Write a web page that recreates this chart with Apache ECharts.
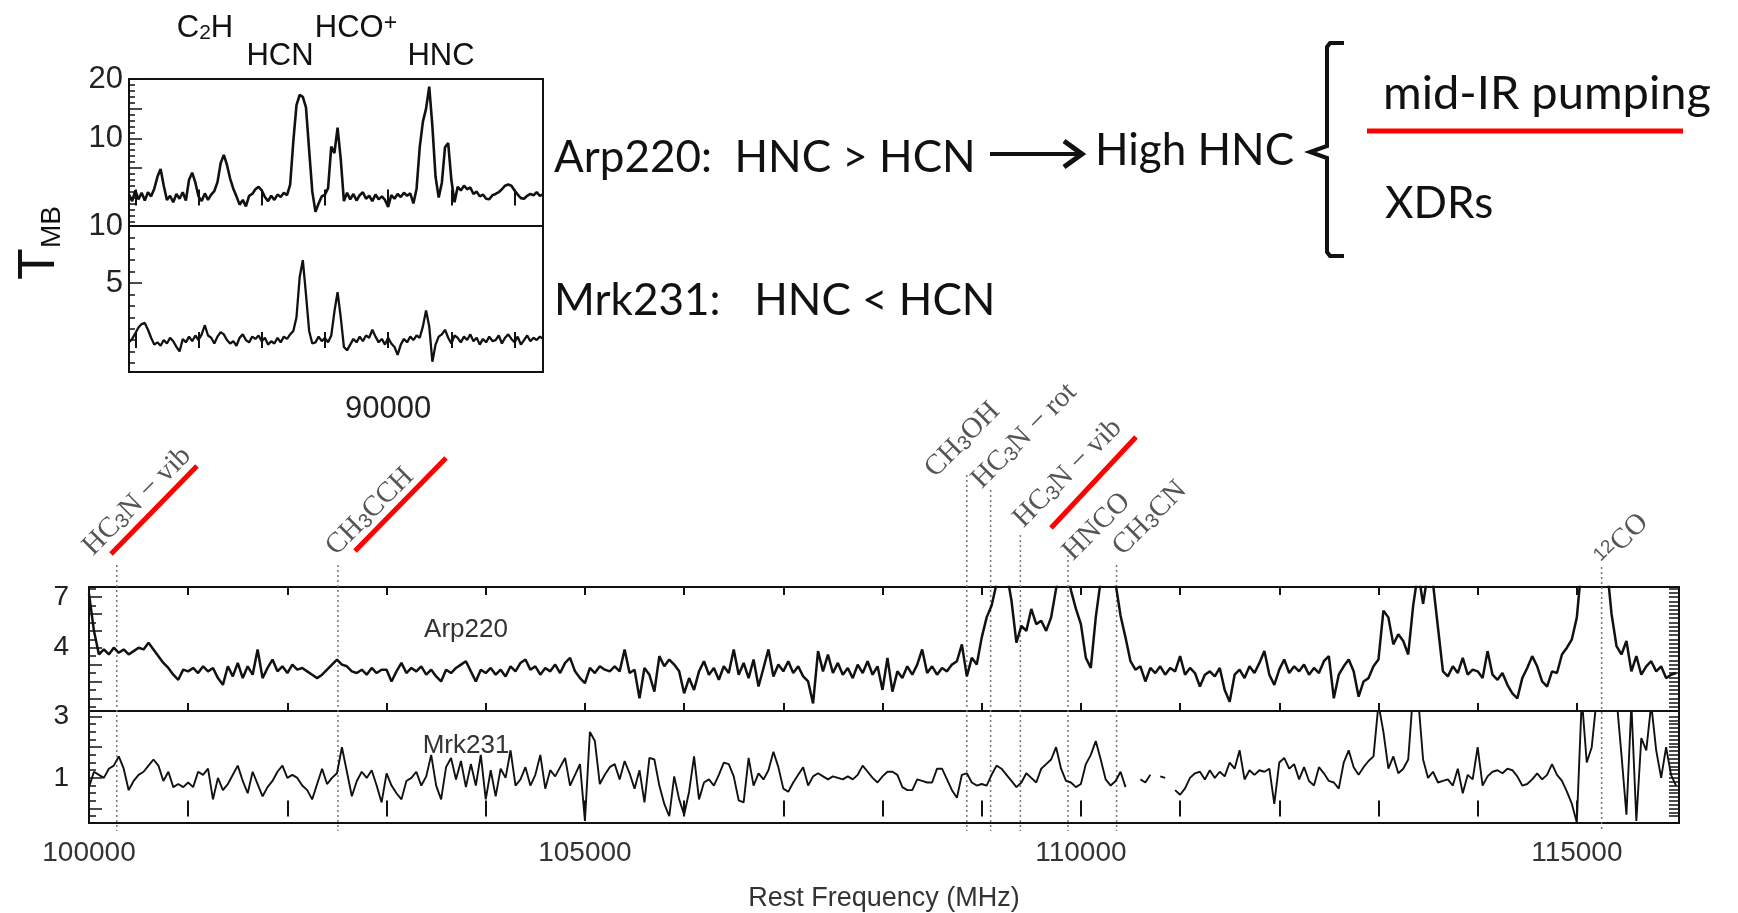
<!DOCTYPE html>
<html>
<head>
<meta charset="utf-8">
<title>Arp220 / Mrk231 spectra</title>
<script src="https://cdn.jsdelivr.net/npm/echarts@6.0.0/dist/echarts.min.js"></script>
<style>
  html, body { margin: 0; padding: 0; background: #fff; }
  #main { width: 1738px; height: 913px; }
</style>
</head>
<body>
<div id="main"></div>
<script>
// ---- inset spectra (3 mm band), 50 MHz steps from 85900 MHz ----
var insetStart = 85900, insetStep = 50;
var insetArp220 = [
  0.5,-0.6,1.2,-0.3,0.8,-0.5,0.9,0.2,1.5,3.5,4.8,2.0,-0.4,
  0.3,-0.8,0.6,-0.2,0.9,-0.5,3.0,4.2,2.5,0.2,
  -0.6,0.7,-0.4,0.5,1.1,2.6,
  5.8,7.2,5.5,3.2,1.5,0.2,-1.2,-0.4,-1.5,0.3,0.6,1.4,1.8,1.2,0.1,-0.6,0.3,-0.4,0.5,0.1,0.8,0.4,
  2.2,9.5,15.6,17.3,17.0,15.2,8.0,1.0,-2.4,-1.0,0.2,0.5,1.6,8.6,7.5,11.8,6.5,
  -0.6,0.8,-0.3,0.6,-0.5,0.4,0.9,-0.2,0.3,-0.6,0.5,-0.3,0.2,-0.4,-1.6,0.4,-0.2,0.6,0.1,0.8,0.3,0.7,-1.0,1.5,
  8.5,12.8,15.0,18.7,12.0,3.5,0.0,2.5,8.5,9.2,3.0,
  -0.8,1.8,1.2,2.0,1.4,1.7,0.6,1.0,0.2,0.5,-0.2,-0.3,0.4,0.6,0.9,1.4,2.0,2.2,2.0,1.2,0.5,-0.1,-0.2,0.3,0.6,0.4,0.9,0.3,0.5
];
var insetMrk231 = [
  -0.2,0.1,0.6,1.1,1.4,1.5,0.9,0.2,-0.4,-0.2,-0.5,0.0,-0.3,
  0.2,-0.1,-0.6,-1.0,0.1,-0.2,0.3,-0.1,0.4,0.0,0.5,1.3,0.4,0.2,
  -0.3,0.3,0.7,0.5,0.0,-0.3,-0.1,-0.5,0.2,0.5,0.0,-0.2,0.3,0.1,0.4,-0.1,0.2,-0.4,-0.1,-0.3,0.2,-0.2,0.3,0.1,
  0.5,0.8,2.0,5.5,7.0,4.0,0.8,-0.3,-0.2,0.3,-0.1,0.2,-0.2,0.4,2.5,4.2,2.0,
  -0.6,-0.9,-0.4,0.1,-0.2,0.3,-0.1,0.4,0.2,0.9,0.3,-0.2,0.1,-0.4,0.2,-0.3,-0.6,-1.3,-0.4,0.1,-0.2,0.3,0.0,0.4,0.2,
  1.2,2.6,1.2,-1.9,-0.4,0.3,0.5,0.9,0.2,-0.3,0.4,0.2,-0.2,0.3,0.0,0.5,-0.1,0.2,-0.4,0.1,-0.2,0.3,-0.1,0.0,0.4,-0.3,0.2,0.5,0.1,-0.2,0.3,-0.4,0.0,0.4,-0.1,0.2,0.0,0.3,0.1
];
var insetTicks = [86000, 87000, 88000, 89000, 90000, 91000, 92000];
var insetTickLabels = [90000];
var insetLineNames = ['C{s|2}H', 'HCN', 'HCO{p|+}', 'HNC'];

// ---- wide spectra 100-116 GHz, 50 MHz steps ----
var specStart = 100000, specStep = 50;
var specArp220 = [
  7.2,5.0,3.6,3.9,3.6,4.0,3.7,3.9,3.6,3.8,4.0,3.9,4.3,3.9,3.5,3.1,2.8,2.4,2.1,2.7,
  2.6,2.8,2.5,2.9,2.6,2.8,2.2,1.8,2.9,2.3,3.1,2.2,2.9,2.4,3.9,2.2,2.8,3.3,2.6,2.9,
  2.5,3.0,2.7,2.8,2.6,2.4,2.2,2.4,2.7,3.0,3.3,3.0,2.9,2.6,2.5,2.7,2.4,2.8,2.5,2.7,
  2.7,2.0,2.6,3.1,2.5,2.8,2.6,2.9,2.4,2.7,2.3,2.0,2.7,2.5,2.8,3.0,3.2,2.6,2.0,2.7,
  2.5,2.8,2.4,2.7,2.3,2.9,2.6,3.1,3.3,2.7,2.9,2.4,2.8,2.6,3.0,2.5,3.1,3.4,2.6,2.2,
  1.9,2.8,2.5,2.9,2.7,2.6,2.9,2.6,3.9,2.5,2.7,1.0,2.8,2.4,1.4,3.5,2.9,3.3,3.0,2.6,
  1.3,2.2,1.5,2.6,3.2,2.4,2.8,2.1,2.9,2.5,3.9,2.4,3.1,2.2,3.3,1.7,2.8,3.9,2.3,3.0,
  2.6,3.2,2.5,2.9,2.3,2.0,0.7,3.8,2.6,3.6,2.5,3.1,2.4,2.8,2.2,3.0,2.5,3.2,2.4,2.9,
  1.5,3.4,1.4,2.6,2.2,2.9,2.4,3.0,3.9,2.5,2.9,2.4,2.8,2.6,3.0,3.2,4.2,2.3,3.4,3.0,
  4.6,5.8,6.5,7.8,9.0,8.5,6.8,4.3,5.3,5.0,6.3,5.4,5.6,5.0,5.8,7.5,9.0,8.8,7.4,6.3,
  5.4,3.4,2.8,5.8,8.0,9.0,9.0,7.8,5.9,4.6,3.2,2.7,2.9,2.0,2.8,2.5,2.9,2.4,2.8,2.6,
  3.5,2.4,2.8,2.5,1.7,2.4,2.6,2.3,2.8,1.5,0.8,2.4,2.7,2.2,2.9,2.5,3.1,3.8,2.4,1.8,
  2.7,3.3,2.5,2.9,2.6,3.0,2.4,2.8,2.5,3.2,3.5,1.0,2.4,2.9,3.3,2.6,1.1,2.0,2.2,2.9,
  3.3,6.2,5.8,4.2,4.8,4.4,3.6,6.5,8.5,6.6,8.5,7.8,5.2,2.6,2.3,2.9,2.5,3.4,2.4,2.7,
  2.6,2.2,3.8,2.4,2.1,2.5,1.8,1.3,1.0,2.2,2.8,3.5,2.9,2.0,1.7,2.6,2.5,3.6,4.0,4.5,
  5.8,9.0,9.0,9.0,9.0,9.0,9.0,6.0,4.1,3.6,4.4,2.6,3.5,2.4,2.9,3.2,2.6,2.9,2.2,2.4,
  2.5
];
var specMrk231 = [
  0.7,1.2,1.1,1.0,1.3,1.4,1.7,1.3,0.6,0.9,1.1,1.2,1.4,1.6,1.4,0.9,1.2,0.7,0.8,0.7,
  0.85,0.7,1.2,1.1,1.3,0.3,1.0,0.6,0.8,1.1,1.4,0.9,0.5,1.2,0.8,0.4,0.7,0.9,1.2,1.4,
  1.0,1.1,1.0,0.75,0.6,0.3,0.8,1.3,0.8,1.0,1.15,2.0,1.2,0.4,0.9,1.2,1.0,1.25,0.75,0.2,
  1.15,0.75,0.5,0.3,0.9,1.0,1.2,0.75,1.05,1.75,0.75,0.3,1.35,1.65,0.95,1.55,0.7,1.45,0.75,1.75,
  0.3,1.25,0.4,1.3,1.0,1.9,0.75,0.95,1.35,0.75,1.1,1.75,0.65,1.25,1.05,1.35,1.65,0.75,1.1,1.45,
  -0.4,2.5,2.2,0.8,1.1,1.35,1.45,0.95,1.55,1.15,0.65,1.25,0.2,1.65,1.6,0.75,0.15,-0.25,1.05,0.3,
  -0.2,0.55,1.7,0.3,0.85,0.95,0.75,1.1,1.5,1.45,1.05,0.27,0.2,1.65,0.75,1.15,0.95,1.25,1.85,1.35,
  0.65,0.55,0.85,1.1,1.35,0.75,1.05,1.15,1.05,0.95,1.05,1.0,0.95,1.05,0.95,1.1,1.4,1.2,1.0,0.85,
  1.05,1.2,1.2,1.1,0.7,0.6,0.6,0.95,0.9,0.85,0.85,1.3,1.3,0.95,0.6,0.35,1.1,1.15,0.85,0.75,
  0.8,0.75,1.1,1.4,1.3,1.1,0.9,0.7,0.85,1.15,1.0,0.85,1.3,1.45,1.6,2.0,1.3,0.9,0.85,0.7,
  0.8,1.45,1.75,2.2,1.6,0.95,0.75,0.9,1.2,0.7,null,null,0.95,0.85,1.1,null,1.05,1.0,null,0.6,
  0.45,0.66,1.0,1.15,1.2,0.95,1.25,1.0,1.2,1.05,1.5,1.3,1.9,0.95,1.25,1.1,1.25,1.2,1.3,0.15,
  1.5,1.65,1.3,1.45,0.95,1.35,0.9,0.75,1.35,1.15,0.9,0.85,0.65,1.5,1.9,1.35,1.1,1.35,1.55,1.7,
  3.4,2.5,1.3,1.7,1.15,1.3,1.6,3.8,3.6,1.6,1.0,1.2,0.85,0.9,0.95,0.75,1.3,0.5,1.1,0.95,
  2.0,0.75,1.05,1.2,1.25,1.15,1.3,1.25,1.05,0.75,0.8,0.95,1.15,0.95,1.1,1.45,1.1,0.9,0.55,0.15,
  -0.45,3.6,1.5,2.0,3.6,4.0,4.0,4.0,3.6,1.75,-0.2,3.4,-0.4,2.3,1.9,3.4,1.9,1.0,2.0,1.1,
  0.75
];
var specTicks = [101000,102000,103000,104000,105000,106000,107000,108000,109000,110000,111000,112000,113000,114000,115000];
var specTickLabels = [100000, 105000, 110000, 115000];

// identified lines (rest frequency, MHz)
var lineNames = ['HC{s|3}N − vib', 'CH{s|3}CCH', 'CH{s|3}OH', 'HC{s|3}N − rot', 'HC{s|3}N − vib', 'HNCO', 'CH{s|3}CN', '{p|12}CO'];
var lineFreqs = [100280, 102510, 108850, 109090, 109390, 109870, 110360, 115250];

// ---- layout only: top of each dotted marker, label anchor offset from the marker ----
var lineTops = [565, 565, 475, 490, 535, 555, 565, 567];
var labelDx = [-19, 3, -27, -4, 8, 10, 11, 9];
var labelY = [561, 561, 483, 494, 533, 566, 561, 572];

function pairs(start, step, vals) {
  return vals.map(function (v, i) { return [start + i * step, v]; });
}
function range(a, b, s) {
  var out = [];
  for (var v = a; v <= b + 1e-9; v += s) out.push(Math.round(v * 1000) / 1000);
  return out;
}
function plain(v) { return String(v); }

var myChart = echarts.init(document.getElementById('main'));

var frame = { show: true, borderColor: '#111', borderWidth: 2, backgroundColor: 'transparent' };
var grids = [
  Object.assign({ left: 129, top: 79, width: 414, height: 147 }, frame),
  Object.assign({ left: 129, top: 226, width: 414, height: 146 }, frame),
  Object.assign({ left: 89, top: 587, width: 1590, height: 124 }, frame),
  Object.assign({ left: 89, top: 711, width: 1590, height: 124 }, frame)
];

function xAx(g, pos, min, max, ticks, labels, extra) {
  var a = {
    type: 'value', gridIndex: g, position: pos, min: min, max: max,
    axisLine: { show: false }, splitLine: { show: false },
    axisTick: { show: true, inside: true, length: 8, customValues: ticks, lineStyle: { color: '#111', width: 2 } },
    axisLabel: { show: !!labels, customValues: labels || [], formatter: plain, color: '#222', fontFamily: 'Liberation Sans', fontSize: 30, margin: 16 }
  };
  return Object.assign(a, extra || {});
}
function yAx(g, pos, min, max, ticks, tickLen, labels, size, margin) {
  return {
    type: 'value', gridIndex: g, position: pos, min: min, max: max,
    axisLine: { show: false }, splitLine: { show: false },
    axisTick: { show: true, inside: true, length: tickLen, customValues: ticks, lineStyle: { color: '#111', width: 1.5 } },
    axisLabel: { show: !!labels, customValues: labels || [], formatter: plain, color: '#222', fontFamily: 'Liberation Sans', fontSize: size || 28, margin: margin || 8 }
  };
}

var xAxes = [
  xAx(0, 'bottom', 85900, 92450, insetTicks),
  xAx(0, 'top', 85900, 92450, insetTicks),
  xAx(1, 'bottom', 85900, 92450, insetTicks, insetTickLabels, {}),
  xAx(1, 'top', 85900, 92450, insetTicks),
  xAx(2, 'bottom', 100000, 116030, specTicks),
  xAx(2, 'top', 100000, 116030, specTicks),
  xAx(3, 'bottom', 100000, 116030, specTicks, specTickLabels, {
    name: 'Rest Frequency (MHz)', nameLocation: 'middle', nameGap: 62,
    nameTextStyle: { color: '#333', fontFamily: 'Liberation Sans', fontSize: 27 }
  }),
  xAx(3, 'top', 100000, 116030, specTicks)
];
xAxes[2].axisLabel.fontSize = 31;
xAxes[2].axisLabel.margin = 22;
xAxes[6].axisLabel.fontSize = 28;
xAxes[6].axisLabel.color = '#333';
xAxes[6].axisLabel.margin = 16;

var yAxes = [
  yAx(0, 'left', -4.8, 20, [5, 10, 15, 20], 13, [10, 20], 31, 6),
  yAx(0, 'left', -4.8, 20, range(-4, 20, 1), 6),
  yAx(1, 'left', -2.8, 10, [5, 10], 13, [5, 10], 31, 6),
  yAx(1, 'left', -2.8, 10, range(-2, 10, 1), 6),
  yAx(2, 'left', 0.25, 7.6, [1, 2, 3, 4, 5, 6, 7], 13, [4, 7], 28, 20),
  yAx(2, 'left', 0.25, 7.6, range(0.5, 7.5, 0.5), 7),
  yAx(2, 'right', 0.25, 7.6, range(0.5, 7.5, 0.25), 10),
  yAx(3, 'left', -0.47, 3.18, [0, 1, 2, 3], 13, [1, 3], 28, 20),
  yAx(3, 'left', -0.47, 3.18, range(-0.25, 3, 0.25), 7),
  yAx(3, 'right', -0.47, 3.18, range(-0.25, 3, 0.125), 10)
];

function spec(name, xi, yi, data, w) {
  return {
    name: name, type: 'line', xAxisIndex: xi, yAxisIndex: yi, data: data,
    showSymbol: false, symbol: 'none', clip: true, connectNulls: false,
    lineStyle: { color: '#111', width: w }, animation: false
  };
}

var rich = {
  s: { fontSize: 20, verticalAlign: 'bottom' },
  p: { fontSize: 19, verticalAlign: 'top' }
};
function txt(x, y, text, size, family, opts) {
  opts = opts || {};
  return {
    type: 'text', x: x, y: y, rotation: opts.rotation || 0, z: 10,
    style: {
      text: text, fontSize: size, fontFamily: family, fill: opts.fill || '#111',
      align: opts.align || 'left', verticalAlign: opts.valign || 'middle',
      rich: opts.rich || rich
    }
  };
}
function poly(points, color, w) {
  return { type: 'polyline', z: 10, shape: { points: points }, style: { stroke: color, lineWidth: w, fill: null } };
}

var sans = 'Liberation Sans';
var slide = 'Lato';
var staticGraphic = [
  txt(205, 28, insetLineNames[0], 31, sans, { align: 'center', rich: { s: { fontSize: 21, verticalAlign: 'bottom' } } }),
  txt(280, 56, insetLineNames[1], 31, sans, { align: 'center' }),
  txt(356, 28, insetLineNames[2], 31, sans, { align: 'center', rich: { p: { fontSize: 23, verticalAlign: 'top' } } }),
  txt(441, 56, insetLineNames[3], 31, sans, { align: 'center' }),
  txt(40, 243, 'T{s|MB}', 52, sans, { align: 'center', rotation: Math.PI / 2, rich: { s: { fontSize: 28, verticalAlign: 'bottom' } } }),

  txt(554, 158, 'Arp220:  HNC > HCN', 44, slide),
  txt(1095, 151, 'High HNC', 44, slide),
  txt(1383, 94, 'mid-IR pumping', 47, slide),
  txt(1385, 204, 'XDRs', 44, slide),
  txt(554, 301, 'Mrk231:   HNC < HCN', 44, slide),
  poly([[990, 154], [1078, 154]], '#111', 4),
  poly([[1064, 141], [1082, 154], [1064, 167]], '#111', 5),
  poly([[1344, 43], [1330, 43], [1327, 47], [1327, 146], [1310, 152], [1327, 158], [1327, 252], [1330, 256], [1344, 256]], '#111', 4),
  poly([[1367, 131], [1683, 131]], '#ff0000', 5),

  txt(466, 630, 'Arp220', 26, sans, { align: 'center', fill: '#333' }),
  txt(466, 746, 'Mrk231', 26, sans, { align: 'center', fill: '#333' }),
  poly([[111, 554], [197, 466]], '#ff0000', 5),
  poly([[355, 551], [446, 458]], '#ff0000', 5),
  poly([[1051, 528], [1136, 437]], '#ff0000', 5)
];

var option = {
  animation: false,
  backgroundColor: '#fff',
  grid: grids,
  xAxis: xAxes,
  yAxis: yAxes,
  series: [
    spec('Arp220 inset', 0, 0, pairs(insetStart, insetStep, insetArp220), 2.6),
    spec('Mrk231 inset', 2, 2, pairs(insetStart, insetStep, insetMrk231), 2.3),
    spec('Arp220', 4, 4, pairs(specStart, specStep, specArp220), 2.5),
    spec('Mrk231', 6, 7, pairs(specStart, specStep, specMrk231), 1.9)
  ],
  graphic: staticGraphic
};
myChart.setOption(option);

// dotted markers + rotated labels, placed through the frequency axis
var dyn = [];
var bottomY = grids[3].top + grids[3].height - 4;
lineFreqs.forEach(function (f, i) {
  var x = myChart.convertToPixel({ xAxisIndex: 4 }, f);
  dyn.push({
    type: 'line', z: 1,
    shape: { x1: x, y1: lineTops[i], x2: x, y2: bottomY },
    style: { stroke: '#777', lineWidth: 1.5, lineDash: [2, 3] }
  });
  dyn.push(txt(x + labelDx[i], labelY[i], lineNames[i], 29, 'Liberation Serif', {
    rotation: Math.PI / 4, valign: 'bottom', fill: '#555'
  }));
});
myChart.setOption({ graphic: staticGraphic.concat(dyn) });
</script>
</body>
</html>
